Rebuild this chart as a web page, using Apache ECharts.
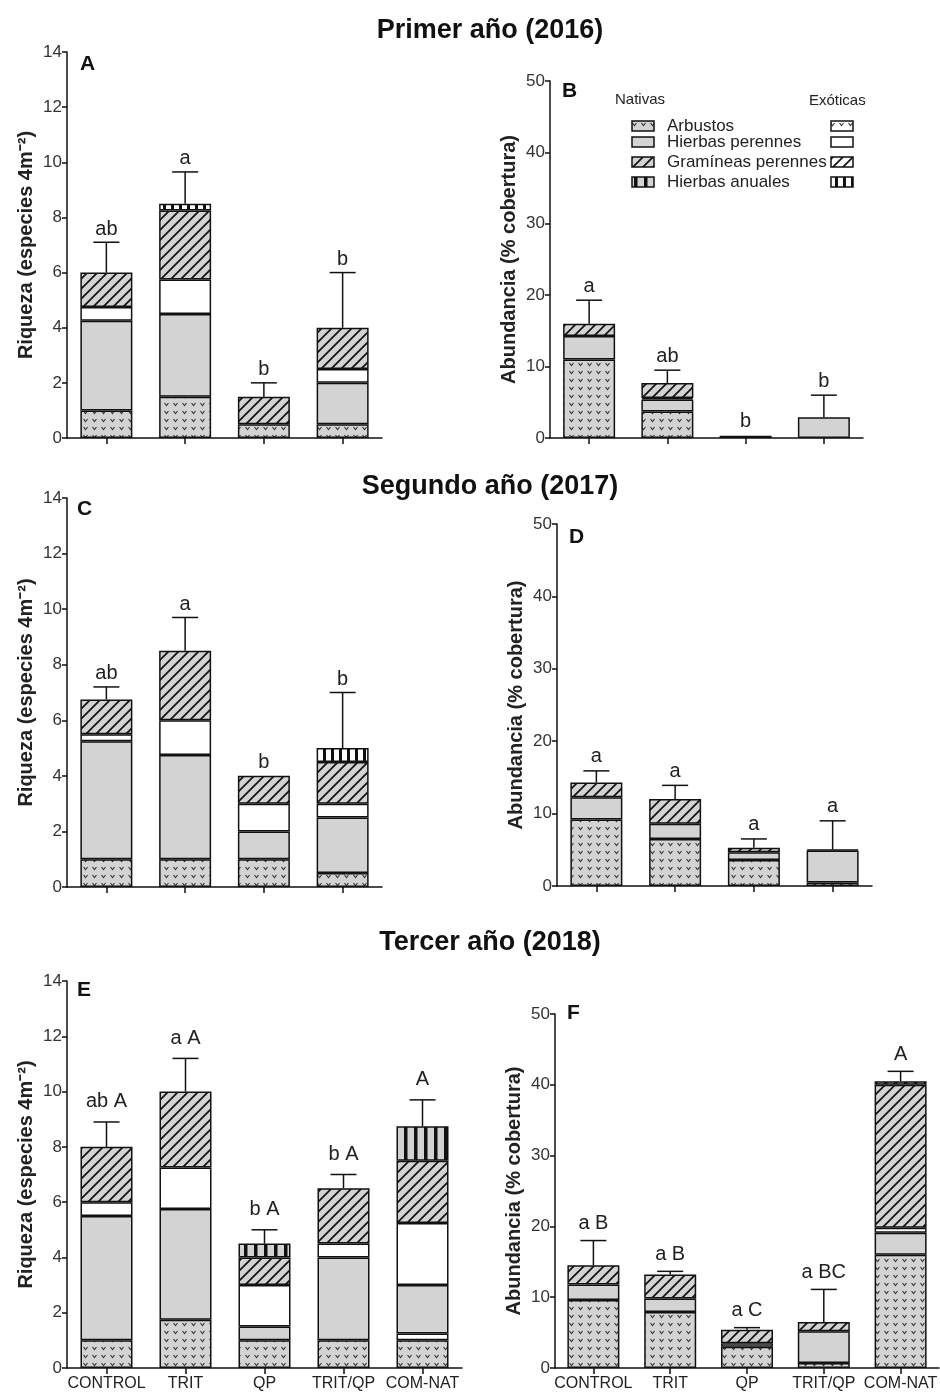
<!DOCTYPE html>
<html>
<head>
<meta charset="utf-8">
<script src="https://cdn.jsdelivr.net/npm/echarts@6/dist/echarts.min.js"></script>
<style>
html,body{margin:0;padding:0;background:#fff;}
#chart{width:940px;height:1394px;}
</style>
</head>
<body>
<div id="chart"></div>
<script>
// ---------- DATA ----------
const categories4 = ['CONTROL', 'TRIT', 'QP', 'TRIT/QP'];
const categories5 = ['CONTROL', 'TRIT', 'QP', 'TRIT/QP', 'COM-NAT'];
const yearTitles = ['Primer año (2016)', 'Segundo año (2017)', 'Tercer año (2018)'];
const panelLetters = ['A', 'B', 'C', 'D', 'E', 'F'];
const richnessTicks = [0, 14, 2];   // min, max, interval
const coverTicks = [0, 50, 10];

// Panel A – richness 2016 (segment heights)
const A_arbNat = [1, 1.5, 0.5, 0.5];
const A_hpNat  = [3.25, 3.0, 0, 1.5];
const A_hpExo  = [0.5, 1.25, 0, 0.5];
const A_gpNat  = [1.25, 2.5, 1.0, 1.5];
const A_haExo  = [0, 0.25, 0, 0];
const A_err    = [1.1, 1.15, 0.5, 2.0];
const A_sig    = ['ab', 'a', 'b', 'b'];

// Panel B – cover 2016
const B_arbNat = [11, 3.7, 0, 0];
const B_hpNat  = [3.3, 1.7, 0.3, 2.9];
const B_hpExo  = [0, 0.2, 0, 0];
const B_gpNat  = [1.7, 2.1, 0, 0];
const B_err    = [3.3, 1.8, 0, 3.1];
const B_sig    = ['a', 'ab', 'b', 'b'];

// Panel C – richness 2017
const C_arbNat = [1, 1, 1, 0.5];
const C_hpNat  = [4.25, 3.75, 1.0, 2.0];
const C_hpExo  = [0.25, 1.25, 1.0, 0.5];
const C_gpNat  = [1.25, 2.5, 1.0, 1.5];
const C_haExo  = [0, 0, 0, 0.5];
const C_err    = [0.45, 1.2, 0, 2.0];
const C_sig    = ['ab', 'a', 'b', 'b'];

// Panel D – cover 2017
const D_arbNat = [9.2, 6.5, 3.6, 0.5];
const D_hpNat  = [3.05, 2.1, 1.05, 4.4];
const D_gpNat  = [2.05, 3.4, 0.65, 0.15];
const D_err    = [1.6, 1.9, 1.2, 3.95];
const D_sig    = ['a', 'a', 'a', 'a'];

// Panel E – richness 2018
const E_arbNat = [1, 1.75, 1, 1, 1];
const E_arbExo = [0, 0, 0, 0, 0.25];
const E_hpNat  = [4.5, 4.0, 0.5, 3.0, 1.75];
const E_hpExo  = [0.5, 1.5, 1.5, 0.5, 2.25];
const E_gpNat  = [2.0, 2.75, 1.0, 2.0, 2.25];
const E_haNat  = [0, 0, 0.5, 0, 1.25];
const E_err    = [0.9, 1.2, 0.5, 0.5, 0.95];
const E_sig    = ['ab A', 'a A', 'b A', 'b A', 'A'];

// Panel F – cover 2018
const F_arbNat = [9.6, 7.9, 3.0, 0.7, 16.0];
const F_hpNat  = [2.2, 1.9, 0, 4.5, 3.1];
const F_hpExo  = [0, 0, 0.5, 0, 0.7];
const F_gpNat  = [2.7, 3.4, 1.9, 1.3, 20.2];
const F_haNat  = [0, 0, 0, 0, 0.5];
const F_err    = [3.5, 0.45, 0.3, 4.6, 1.4];
const F_sig    = ['a B', 'a B', 'a C', 'a BC', 'A'];

const groupNames = ['Arbustos', 'Hierbas perennes', 'Gramíneas perennes', 'Hierbas anuales'];

// ---------- PATTERNS ----------
const GRAY = '#d3d3d3';
function tile(w, h, bg, draw) {
  const c = document.createElement('canvas');
  c.width = w; c.height = h;
  const g = c.getContext('2d');
  g.fillStyle = bg; g.fillRect(0, 0, w, h);
  draw(g, w, h);
  return { image: c, repeat: 'repeat' };
}
function vMarks(g) {
  g.strokeStyle = '#333'; g.lineWidth = 1.1;
  g.beginPath(); g.moveTo(2.5, 3); g.lineTo(4.5, 5.5); g.lineTo(6.5, 3); g.stroke();
}
function hatch(g, w, h) {
  g.strokeStyle = '#111'; g.lineWidth = 1.7;
  g.beginPath();
  g.moveTo(-2, h + 2); g.lineTo(w + 2, -2);
  g.moveTo(-2, 2); g.lineTo(2, -2);
  g.moveTo(w - 2, h + 2); g.lineTo(w + 2, h - 2);
  g.stroke();
}
const PAT = {
  arbNat: tile(9, 8, GRAY, vMarks),
  arbExo: tile(9, 8, '#fff', vMarks),
  hpNat: GRAY,
  hpExo: '#ffffff',
  gpNat: tile(10, 10, GRAY, hatch),
  gpExo: tile(10, 10, '#fff', hatch),
  haNat: tile(10, 10, GRAY, (g) => { g.fillStyle = '#111'; g.fillRect(4, 0, 3.5, 10); }),
  haExo: tile(8, 8, '#fff', (g) => { g.fillStyle = '#111'; g.fillRect(3, 0, 3, 8); })
};
const segKeys = ['arbNat', 'arbExo', 'hpNat', 'hpExo', 'gpNat', 'gpExo', 'haNat', 'haExo'];
const segNames = ['Arbustos nativas', 'Arbustos exóticas', 'Hierbas perennes nativas', 'Hierbas perennes exóticas',
  'Gramíneas perennes nativas', 'Gramíneas perennes exóticas', 'Hierbas anuales nativas', 'Hierbas anuales exóticas'];

// ---------- PANELS ----------
const panels = [
  { cats: categories4, ticks: richnessTicks, seg: { arbNat: A_arbNat, hpNat: A_hpNat, hpExo: A_hpExo, gpNat: A_gpNat, haExo: A_haExo }, err: A_err, sig: A_sig,
    grid: { left: 67, top: 52, width: 315, height: 386 }, name: 'Riqueza (especies 4m⁻²)', labels: false, gap: 3 },
  { cats: categories4, ticks: coverTicks, seg: { arbNat: B_arbNat, hpNat: B_hpNat, hpExo: B_hpExo, gpNat: B_gpNat }, err: B_err, sig: B_sig,
    grid: { left: 550, top: 81, width: 313, height: 357 }, name: 'Abundancia (% cobertura)', labels: false, gap: 4 },
  { cats: categories4, ticks: richnessTicks, seg: { arbNat: C_arbNat, hpNat: C_hpNat, hpExo: C_hpExo, gpNat: C_gpNat, haExo: C_haExo }, err: C_err, sig: C_sig,
    grid: { left: 67, top: 498, width: 315, height: 389 }, name: 'Riqueza (especies 4m⁻²)', labels: false, gap: 3 },
  { cats: categories4, ticks: coverTicks, seg: { arbNat: D_arbNat, hpNat: D_hpNat, gpNat: D_gpNat }, err: D_err, sig: D_sig,
    grid: { left: 557, top: 524, width: 315, height: 362 }, name: 'Abundancia (% cobertura)', labels: false, gap: 4 },
  { cats: categories5, ticks: richnessTicks, seg: { arbNat: E_arbNat, arbExo: E_arbExo, hpNat: E_hpNat, hpExo: E_hpExo, gpNat: E_gpNat, haNat: E_haNat }, err: E_err, sig: E_sig,
    grid: { left: 67, top: 981, width: 395, height: 387 }, name: 'Riqueza (especies 4m⁻²)', labels: true, gap: 10 },
  { cats: categories5, ticks: coverTicks, seg: { arbNat: F_arbNat, hpNat: F_hpNat, hpExo: F_hpExo, gpNat: F_gpNat, haNat: F_haNat }, err: F_err, sig: F_sig,
    grid: { left: 555, top: 1014, width: 384, height: 354 }, name: 'Abundancia (% cobertura)', labels: true, gap: 7 }
];

const FONT = '"Liberation Sans", Arial, sans-serif';
const grids = [], xAxes = [], yAxes = [], series = [];

panels.forEach((p, k) => {
  grids.push(Object.assign({ outerBoundsMode: 'none', containLabel: false }, p.grid));
  xAxes.push({
    type: 'category', gridIndex: k, data: p.cats,
    axisLine: { show: true, lineStyle: { color: '#111', width: 1.5 } },
    axisTick: { show: true, alignWithLabel: true, length: 6, lineStyle: { color: '#111', width: 1.5 } },
    axisLabel: { show: p.labels, color: '#222', fontSize: 16, fontFamily: FONT, margin: 8, interval: 0 },
    splitLine: { show: false }
  });
  yAxes.push({
    type: 'value', gridIndex: k, min: p.ticks[0], max: p.ticks[1], interval: p.ticks[2],
    name: p.name, nameLocation: 'middle', nameGap: 31,
    nameTextStyle: { fontSize: 20, fontWeight: 'bold', color: '#222', fontFamily: FONT },
    axisLine: { show: true, lineStyle: { color: '#111', width: 1.5 } },
    axisTick: { show: true, length: 5, lineStyle: { color: '#111', width: 1.5 } },
    axisLabel: { color: '#333', fontSize: 17, fontFamily: FONT, margin: 5 },
    splitLine: { show: false }
  });
  const totals = p.cats.map(() => 0);
  segKeys.forEach((key, s) => {
    const vals = p.seg[key];
    if (!vals) return;
    vals.forEach((v, i) => totals[i] += v);
    series.push({
      type: 'bar', name: segNames[s], xAxisIndex: k, yAxisIndex: k, stack: 'p' + k,
      barWidth: 52, silent: true,
      data: vals.map(v => v > 0 ? v : '-'),
      itemStyle: { color: PAT[key], borderColor: '#111', borderWidth: 1.5 }
    });
  });
  const errData = p.cats.map((c, i) => [i, totals[i], totals[i] + p.err[i]]);
  series.push({
    type: 'custom', xAxisIndex: k, yAxisIndex: k, silent: true, z: 5,
    data: errData, encode: { x: 0, y: [1, 2] },
    renderItem: (params, api) => {
      const i = api.value(0), tot = api.value(1), top = api.value(2);
      const p0 = api.coord([i, tot]), p1 = api.coord([i, top]);
      const children = [];
      const ls = { stroke: '#111', lineWidth: 1.5 };
      if (top - tot > 1e-6) {
        children.push({ type: 'line', shape: { x1: p0[0], y1: p0[1], x2: p1[0], y2: p1[1] }, style: ls });
        children.push({ type: 'line', shape: { x1: p1[0] - 13, y1: p1[1], x2: p1[0] + 13, y2: p1[1] }, style: ls });
      }
      children.push({ type: 'text', style: { text: p.sig[params.dataIndex], x: p1[0], y: p1[1] - p.gap,
        textAlign: 'center', textVerticalAlign: 'bottom', font: '20px ' + FONT, fill: '#222' } });
      return { type: 'group', children };
    }
  });
});

// ---------- GRAPHICS (titles, panel letters, legend) ----------
const graphic = [];
[[490, 31], [490, 487], [490, 943]].forEach((pos, i) => {
  graphic.push({ type: 'text', silent: true,
    style: { text: yearTitles[i], x: pos[0], y: pos[1], textAlign: 'center', textVerticalAlign: 'middle',
      font: 'bold 27px ' + FONT, fill: '#111' } });
});
[[80, 64], [562, 91], [77, 509], [569, 537], [77, 990], [567, 1013]].forEach((pos, i) => {
  graphic.push({ type: 'text', silent: true,
    style: { text: panelLetters[i], x: pos[0], y: pos[1], textAlign: 'left', textVerticalAlign: 'middle',
      font: 'bold 21px ' + FONT, fill: '#111' } });
});
graphic.push({ type: 'text', silent: true, style: { text: 'Nativas', x: 615, y: 100, textVerticalAlign: 'middle', font: '15px ' + FONT, fill: '#222' } });
graphic.push({ type: 'text', silent: true, style: { text: 'Exóticas', x: 809, y: 101, textVerticalAlign: 'middle', font: '15px ' + FONT, fill: '#222' } });
const legendY = [126, 142, 162, 182];
const natKeys = ['arbNat', 'hpNat', 'gpNat', 'haNat'];
const exoKeys = ['arbExo', 'hpExo', 'gpExo', 'haExo'];
groupNames.forEach((nm, i) => {
  const y = legendY[i];
  graphic.push({ type: 'rect', silent: true, shape: { x: 632, y: y - 5, width: 22, height: 10 },
    style: { fill: PAT[natKeys[i]], stroke: '#111', lineWidth: 1.5 } });
  graphic.push({ type: 'rect', silent: true, shape: { x: 831, y: y - 5, width: 22, height: 10 },
    style: { fill: PAT[exoKeys[i]], stroke: '#111', lineWidth: 1.5 } });
  graphic.push({ type: 'text', silent: true, style: { text: nm, x: 667, y: y, textVerticalAlign: 'middle', font: '17px ' + FONT, fill: '#222' } });
});

const chart = echarts.init(document.getElementById('chart'), null, { renderer: 'canvas' });
chart.setOption({
  animation: false,
  backgroundColor: '#fff',
  grid: grids, xAxis: xAxes, yAxis: yAxes, series: series, graphic: graphic
});
</script>
</body>
</html>
